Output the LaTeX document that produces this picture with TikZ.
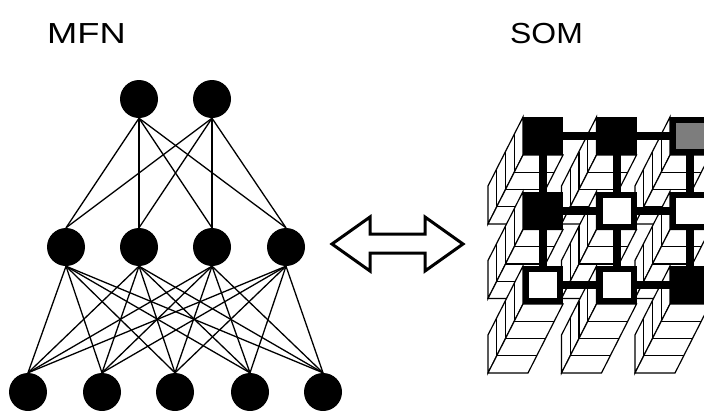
\documentclass[tikz,border=0pt]{standalone}
\usepackage{fontspec}
\setmainfont{Liberation Sans}
\begin{document}
\begin{tikzpicture}[x=1pt,y=-1pt,
  neuron/.style={circle,fill=black,inner sep=0pt,minimum size=38pt},
  syn/.style={line width=1.3pt},
  title/.style={anchor=base west,inner sep=0pt,font=\fontsize{29}{30}\selectfont},
  rodface/.style={fill=white,draw=black,line width=1.2pt,line join=miter},
  slice/.style={draw=black,line width=1.2pt},
  bar/.style={line width=8pt},
  unit/.style={rectangle,draw=black,line width=6pt,minimum width=34pt,minimum height=32pt,inner sep=0pt},
  won/.style={unit,fill=black},
  idle/.style={unit,fill=white},
  best/.style={unit,fill=bmugray},
  swap/.style={line width=3pt,line join=miter,fill=white,draw=black}]
\definecolor{bmugray}{RGB}{125,125,125}
\useasboundingbox (0,0) rectangle (704,410);
\clip (0,0) rectangle (704,410);

% ---------- titles ----------
\node[title] (mfnlabel) at (47,43) {\scalebox{1.25}[1]{MFN}};
\node[title] (somlabel) at (510,43) {\scalebox{1.1}[1]{SOM}};

% ---------- multilayer feed-forward network ----------
\node[neuron] (t1) at (139,99) {};
\node[neuron] (t2) at (212,99) {};
\foreach \i/\x in {1/66,2/139,3/212,4/286}
  \node[neuron] (h\i) at (\x,247) {};
\foreach \i/\x in {1/28,2/102,3/175,4/250,5/323}
  \node[neuron] (i\i) at (\x,392) {};
\foreach \a in {1,2}
  \foreach \b in {1,...,4}
    \draw[syn] (t\a.south) -- (h\b.north);
\foreach \a in {1,...,4}
  \foreach \b in {1,...,5}
    \draw[syn] (h\a.south) -- (i\b.north);

% ---------- equivalence arrow ----------
\draw[swap] (332,244) -- (370,217) -- (370,234) -- (425,234) -- (425,217)
  -- (463,244) -- (425,271) -- (425,253) -- (370,253) -- (370,271) -- cycle;

% ---------- self-organising map ----------
% weight rods behind each unit, receding down-left in four slabs
\foreach \r in {1,2,3}
  \foreach \c in {3,2,1} {
    \pgfmathsetmacro{\cx}{543+73.5*(\c-1)}
    \pgfmathsetmacro{\cy}{136+74.5*(\r-1)}
    \filldraw[rodface] (\cx-20,\cy-19) -- (\cx-20,\cy+19) -- ++(-35,69) -- ++(0,-38) -- cycle;
    \filldraw[rodface] (\cx-20,\cy+19) -- (\cx+20,\cy+19) -- ++(-35,69) -- ++(-40,0) -- cycle;
    \foreach \k in {1,2,3}
      \draw[slice] (\cx-20-8.75*\k,\cy-19+17.25*\k) -- ++(0,38) -- ++(40,0);
  }

% lattice links between the units
\foreach \r in {1,2,3}
  \foreach \c in {1,2,3}
    \coordinate (g\r\c) at ({543+73.5*(\c-1)},{136+74.5*(\r-1)});
\foreach \r in {1,2,3} {
  \draw[bar] (g\r1) -- (g\r2);
  \draw[bar] (g\r2) -- (g\r3);
}
\foreach \c in {1,2,3} {
  \draw[bar] (g1\c) -- (g2\c);
  \draw[bar] (g2\c) -- (g3\c);
}

% map units
\node[won]  (u11) at (g11) {};
\node[won]  (u12) at (g12) {};
\node[best] (u13) at (g13) {};
\node[won]  (u21) at (g21) {};
\node[idle] (u22) at (g22) {};
\node[idle] (u23) at (g23) {};
\node[idle] (u31) at (g31) {};
\node[idle] (u32) at (g32) {};
\node[won]  (u33) at (g33) {};
\end{tikzpicture}
\end{document}
